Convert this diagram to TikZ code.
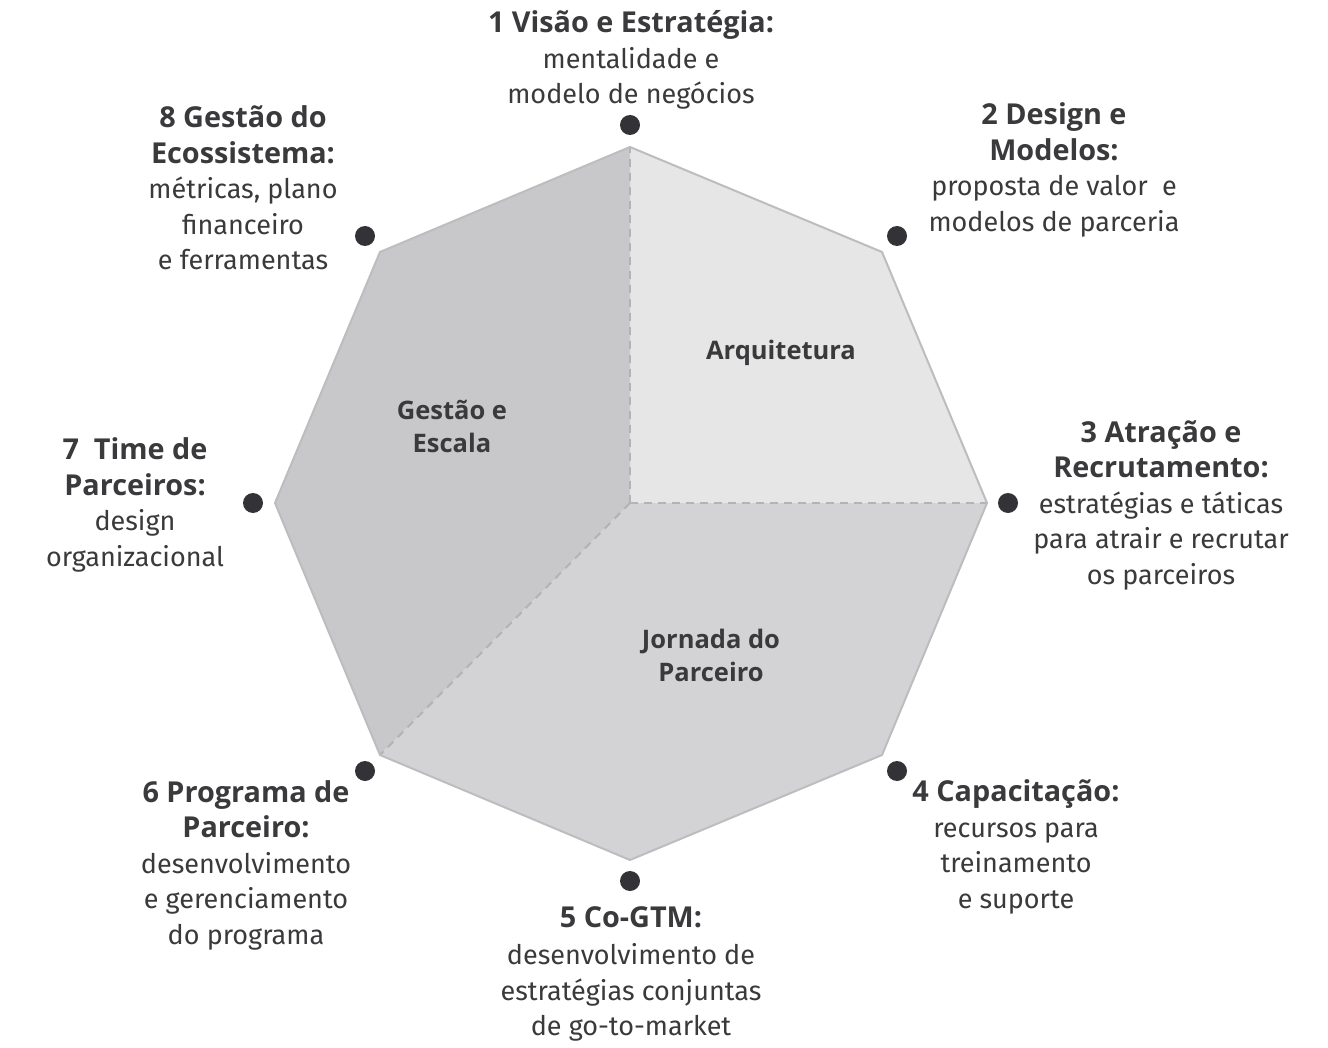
\documentclass[tikz,border=0pt]{standalone}
\usepackage{fontspec}
\setmainfont{Fira Sans}
\newfontfamily\hdfont{Open Sans}
\definecolor{txt}{HTML}{3A3A3C}
\definecolor{dotc}{HTML}{333337}
\definecolor{fillA}{HTML}{E6E6E7}
\definecolor{fillG}{HTML}{C8C8CB}
\definecolor{fillJ}{HTML}{D3D3D6}
\definecolor{edgec}{HTML}{BDBDC0}
\definecolor{dashc}{HTML}{B3B3B6}
\newcommand{\hd}[1]{{\hdfont\bfseries\fontsize{28.8}{35.5}\selectfont #1}}
\begin{document}
\begin{tikzpicture}[x=1pt,y=-1pt,
  lbl/.style={align=center,text=txt,font=\fontsize{27}{35.5}\selectfont,inner sep=0pt},
  inlbl/.style={align=center,text=txt,font=\hdfont\bfseries\fontsize{25.5}{33}\selectfont,inner sep=0pt},
  dotn/.style={circle,fill=dotc,minimum size=20pt,inner sep=0pt},
  sep/.style={dashc,line width=2pt,dash pattern=on 8pt off 6pt}]
\useasboundingbox[fill=white] (0,0) rectangle (1328,1048);
\coordinate (C) at (630,503);
\coordinate (T) at (630,147);
\coordinate (TR) at (882,252);
\coordinate (R) at (987,503);
\coordinate (BR) at (882,755);
\coordinate (B) at (630,860);
\coordinate (BL) at (380,755);
\coordinate (L) at (275,503);
\coordinate (TL) at (380,252);
\fill[fillA] (T) -- (TR) -- (R) -- (C) -- cycle;
\fill[fillG] (T) -- (C) -- (BL) -- (L) -- (TL) -- cycle;
\fill[fillJ] (C) -- (R) -- (BR) -- (B) -- (BL) -- cycle;
\draw[sep] (C) -- (T);
\draw[sep] (C) -- (R);
\draw[sep] (C) -- (BL);
\draw[edgec,line width=2pt,line join=round] (T) -- (TR) -- (R) -- (BR) -- (B) -- (BL) -- (L) -- (TL) -- cycle;
% dots
\node[dotn] (d1) at (630,125) {};
\node[dotn] (d2) at (897,236) {};
\node[dotn] (d3) at (1008,503) {};
\node[dotn] (d4) at (897,771) {};
\node[dotn] (d5) at (630,881) {};
\node[dotn] (d6) at (365,771) {};
\node[dotn] (d7) at (253,503) {};
\node[dotn] (d8) at (365,236) {};
% inner labels
\node[inlbl] (arq) at (781,353) {Arquitetura};
\node[inlbl] (ges) at (452,426) {Gestão e\\Escala};
\node[inlbl] (jor) at (711,655) {Jornada do\\Parceiro};
% outer labels
\node[lbl] (t1) at (631,60) {\hd{1 Visão e Estratégia:}\\mentalidade e\\modelo de negócios};
\node[lbl] (t2) at (1054,170) {\hd{2 Design e}\\\hd{Modelos:}\\proposta de valor\ \ e\\modelos de parceria};
\node[lbl] (t3) at (1161,505) {\hd{3 Atração e}\\\hd{Recrutamento:}\\estratégias e táticas\\para atrair e recrutar\\os parceiros};
\node[lbl] (t4) at (1016,847) {\hd{4 Capacitação:}\\recursos para\\treinamento\\e suporte};
\node[lbl] (t5) at (631,974) {\hd{5 Co-GTM:}\\[2pt]desenvolvimento de\\estratégias conjuntas\\de go-to-market};
\node[lbl] (t6) at (246,865) {\hd{6 Programa de}\\\hd{Parceiro:}\\desenvolvimento\\e gerenciamento\\do programa};
\node[lbl] (t7) at (135,505) {\hd{7\ \ Time de}\\\hd{Parceiros:}\\design\\organizacional};
\node[lbl] (t8) at (243,188) {\hd{8 Gestão do}\\\hd{Ecossistema:}\\métricas, plano\\financeiro\\e ferramentas};
\end{tikzpicture}
\end{document}
